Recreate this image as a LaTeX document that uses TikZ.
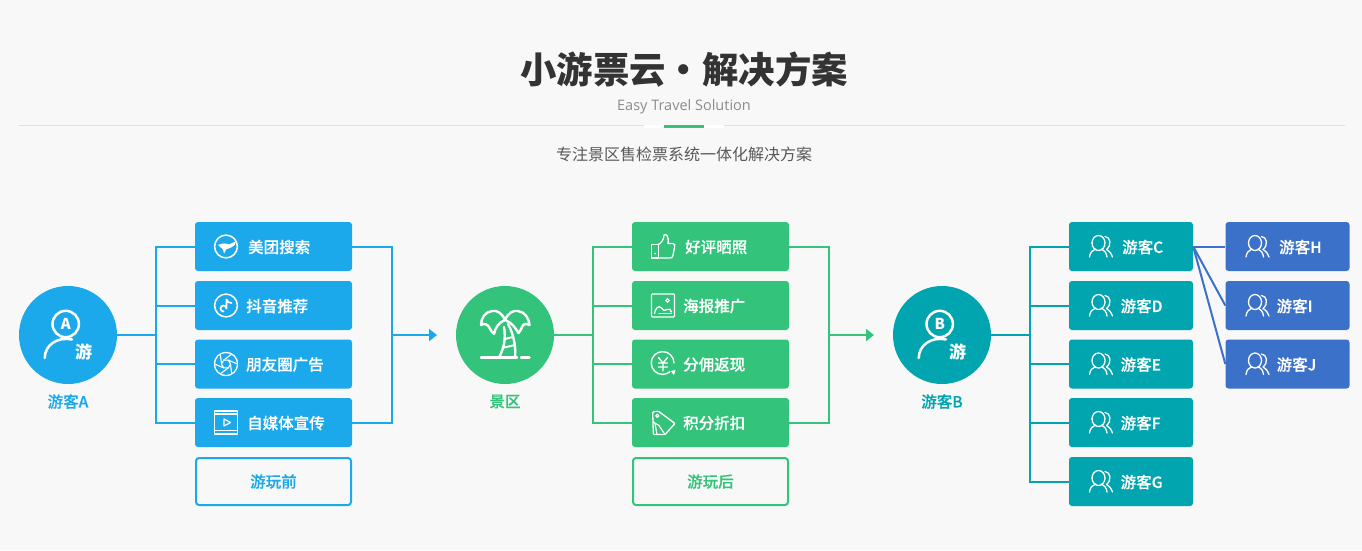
\documentclass[tikz,border=0pt]{standalone}
\usepackage{fontspec}
\usepackage{xcolor}
\usetikzlibrary{arrows.meta}
\setmainfont{Noto Sans CJK SC}
\newfontfamily\cjkmed[FakeBold=0.3]{Noto Sans CJK SC Medium}
\newfontfamily\latinsub{Open Sans}

\definecolor{pagebg}{HTML}{F8F8F8}
\definecolor{tourblue}{HTML}{1CA9EB}
\definecolor{spotgreen}{HTML}{33C37A}
\definecolor{tourteal}{HTML}{00A5AF}
\definecolor{groupblue}{HTML}{3B71C8}

\tikzset{
  hubnode/.style={circle, minimum size=98pt, inner sep=0pt, text=white},
  boxnode/.style={rectangle, rounded corners=3pt, minimum height=49pt, inner sep=0pt},
  widebox/.style={boxnode, minimum width=157pt},
  narrowbox/.style={boxnode, minimum width=124pt},
  outlinebox/.style={rectangle, rounded corners=3pt, draw, line width=2pt, minimum width=155pt, minimum height=47pt, inner sep=0pt, font=\cjkmed\fontsize{15.5}{16}\selectfont},
  boxtext/.style={anchor=west, inner sep=0pt, text=white, font=\cjkmed\fontsize{15.5}{16}\selectfont},
  hubtext/.style={inner sep=0pt, font=\cjkmed\fontsize{15.5}{16}\selectfont},
  linkline/.style={line width=2pt},
  icon/.style={draw=white, line width=1.5pt, line cap=round, line join=round},
  % People
  visitor/.pic={
    \draw[white, line width=2.5pt] (-2.3,-11) circle (13.2);
    \draw[white, line width=2.5pt, line cap=round] (-23.3,23) .. controls (-23,10) and (-11,1.5) .. (4,4.5);
    \node[inner sep=0pt, text=white, font=\bfseries\fontsize{15}{16}\selectfont] (-mark) at (-2.3,-11) {\tikzpictext};
    \node[inner sep=0pt, text=white, font=\bfseries\fontsize{17}{18}\selectfont] (-word) at (15.5,17) {游};
  },
  crowd/.pic={
    \draw[icon, line width=1.3pt] (-2,-3.5) ellipse (6.5 and 7.5);
    \draw[icon, line width=1.3pt] (-11,10.5) .. controls (-10.5,6) and (-8,3.5) .. (-5,2.5);
    \draw[icon, line width=1.3pt] (1,2.5) .. controls (3.5,3.5) and (6,6) .. (6.5,10.5);
    \draw[icon, line width=1.3pt] (4.5,-10) .. controls (10,-9.5) and (11.5,-1.5) .. (6,3);
    \draw[icon, line width=1.3pt] (6,3) .. controls (9.5,5) and (11.5,8) .. (12,10.5);
  },
  % Promotion icons before the visit
  birdicon/.pic={
    \draw[icon] (0,0) circle (11.4);
    \fill[white] (-8,-1.5) .. controls (-4,-3.5) and (0,-3.5) .. (3,-2) .. controls (5,-3) and (8,-4.5) .. (10,-5) .. controls (10,-2) and (8,0) .. (5,1) .. controls (3,2) and (1,2.5) .. (0,3) -- (-2,7) -- (-3,3) .. controls (-5,1.5) and (-6,0) .. cycle;
  },
  noteicon/.pic={
    \draw[icon] (0,0) circle (11.4);
    \draw[icon, line width=1.7pt] (0.5,-6) -- (0.5,3) arc (0:-270:3) (0.5,-6) .. controls (1,-3.5) and (3.5,-2.5) .. (5.5,-2.5);
  },
  lensicon/.pic={
    \draw[icon, line width=1.3pt] (0,0) circle (11.6);
    \draw[icon, line width=1.1pt] (0:4.5) -- (60:11.4) (60:4.5) -- (120:11.4) (120:4.5) -- (180:11.4)
      (180:4.5) -- (240:11.4) (240:4.5) -- (300:11.4) (300:4.5) -- (0:11.4);
    \draw[icon, line width=1.1pt] (0:4.5) -- (60:4.5) -- (120:4.5) -- (180:4.5) -- (240:4.5) -- (300:4.5) -- cycle;
  },
  filmicon/.pic={
    \draw[icon, line width=1.2pt] (-11.5,-11.5) rectangle (11.5,11.5);
    \draw[icon, line width=1.2pt] (-11.5,-8.5) -- (11.5,-8.5) (-11.5,8) -- (11.5,8);
    \draw[icon, line width=1.2pt] (-2,-3.5) -- (4.5,0) -- (-2,3.5) -- cycle;
  },
  % Promotion icons after the visit
  thumbicon/.pic={
    \draw[icon, line width=1.3pt] (-11.5,-2) rectangle (-4.5,11.5);
    \fill[white] (-8,7) circle (1);
    \draw[icon, line width=1.3pt] (-4.5,-2) .. controls (-1,-4) and (1,-8) .. (1,-11.5) .. controls (3,-13) and (6,-11) .. (5,-3)
      -- (10,-3) .. controls (12,-3) and (12,-1) .. (11.5,1) -- (10,9) .. controls (9.5,11) and (9,11.5) .. (7,11.5) -- (-4.5,11.5);
  },
  photoicon/.pic={
    \draw[icon, line width=1.3pt, rounded corners=1pt] (-11.5,-11.5) rectangle (11.5,11.5);
    \draw[icon, line width=1.3pt] (4.5,-5) circle (1.8);
    \draw[icon, line width=1.3pt] (-8.5,8) .. controls (-8,3) and (-4,-1) .. (-1.5,2.5) .. controls (0,5) and (2,6) .. (4,4) .. controls (6,2.5) and (8,4) .. (8.5,6.5);
    \draw[icon, line width=1.3pt] (-4,8) -- (8.5,8);
  },
  yenicon/.pic={
    \draw[icon, line width=1.4pt] (11,-1) arc (0:-310:11.4);
    \draw[icon, line width=1.4pt] (-4.5,-6.5) -- (0,-1) -- (4.5,-6.5) (0,-1) -- (0,7) (-4.5,-1) -- (4.5,-1) (-4.5,3) -- (4.5,3);
    \fill[white] (7.5,7) -- (12.5,6) -- (11,11) -- cycle;
  },
  tagicon/.pic={
    \draw[icon, line width=1.3pt, rounded corners=1pt] (-10.3,-10.7) -- (-4.6,-11.3) -- (12,1) -- (2,12) -- (-9.7,12) -- cycle;
    \draw[icon, line width=1.2pt] (-5.7,-6.7) circle (1.6);
    \draw[icon, line width=1.2pt] (-9.7,-0.5) -- (-4,3) -- (2,12) (-8,1) -- (-6,12);
  },
  palmicon/.pic={
    % Ground
    \draw[white, line width=2.4pt, line cap=round] (-24,22.5) -- (12,22.5) (16,22.5) -- (24.5,22.5);
    % Trunk
    \draw[white, line width=2.4pt, line cap=round, line join=round] (-6,22.5) .. controls (-1,13) and (1,4) .. (-1,-8)
      (10,22.5) .. controls (11,12) and (9,0) .. (3,-11);
    \draw[white, line width=2pt] (-3,13) -- (10,10) (-0.5,4) -- (8,2);
    % Leaves
    \draw[white, line width=2.4pt, line cap=round, line join=round] (0,-15) .. controls (-3,-22) and (-8,-25) .. (-13,-24)
      .. controls (-20,-23) and (-24,-17) .. (-24,-10) .. controls (-21,-12) and (-18,-11) .. (-16,-8)
      .. controls (-15,-5) and (-13,-3) .. (-11,-1) .. controls (-10,-7) and (-6,-13) .. (0,-15)
      .. controls (3,-22) and (8,-25) .. (13,-24) .. controls (20,-23) and (24,-17) .. (24.5,-10)
      .. controls (21,-12) and (18,-11) .. (17,-8) .. controls (16,-5) and (15,-4) .. (13.5,-2)
      .. controls (10,-8) and (6,-13) .. (0,-15);
  }
}

\begin{document}
\begin{tikzpicture}[x=1pt, y=-1pt]
  % Background
  \fill[pagebg] (0,0) rectangle (1362,550);

  % Heading
  \node[inner sep=0pt, text=black!80, font=\bfseries\fontsize{36.4}{40}\selectfont] (title) at (684,69.5) {小游票云・解决方案};
  \node[inner sep=0pt, text=black!45, font=\latinsub\fontsize{14.5}{16}\selectfont] (subtitle) at (684,106.5) {Easy Travel Solution};
  \node[inner sep=0pt, text=black!65, font=\fontsize{16}{18}\selectfont] (slogan) at (684,154) {专注景区售检票系统一体化解决方案};
  \fill[black!13] (19,125) rectangle (1345,126);
  \fill[white] (644,125) rectangle (724,128);
  \fill[spotgreen] (664,125) rectangle (704,128);

  % Visitor A
  \node[hubnode, fill=tourblue] (tourA) at (68,335) {};
  \pic[pic text=A] at (68,335) {visitor};
  \node[hubtext, text=tourblue] (tourAname) at (68,401.5) {游客A};
  \node[widebox, fill=tourblue] (meituan) at (273.5,246.5) {};
  \node[widebox, fill=tourblue] (douyin) at (273.5,305.5) {};
  \node[widebox, fill=tourblue] (moments) at (273.5,364) {};
  \node[widebox, fill=tourblue] (media) at (273.5,422.5) {};
  \node[outlinebox, draw=tourblue, text=tourblue] (before) at (273.5,481.5) {游玩前};
  \pic at (226,246.5) {birdicon};
  \pic at (226,305.5) {noteicon};
  \pic at (226,364) {lensicon};
  \pic at (226,422.5) {filmicon};
  \node[boxtext] (meituantext) at (248,247) {美团搜索};
  \node[boxtext] (douyintext) at (246,306) {抖音推荐};
  \node[boxtext] (momentstext) at (246,364.5) {朋友圈广告};
  \node[boxtext] (mediatext) at (247,423) {自媒体宣传};

  % Scenic spot
  \node[hubnode, fill=spotgreen] (spot) at (505,335) {};
  \pic at (505,335) {palmicon};
  \node[hubtext, text=spotgreen] (spotname) at (505,401.5) {景区};
  \node[widebox, fill=spotgreen] (review) at (710.5,246.5) {};
  \node[widebox, fill=spotgreen] (poster) at (710.5,305.5) {};
  \node[widebox, fill=spotgreen] (rebate) at (710.5,364) {};
  \node[widebox, fill=spotgreen] (points) at (710.5,422.5) {};
  \node[outlinebox, draw=spotgreen, text=spotgreen] (after) at (710.5,481.5) {游玩后};
  \pic at (663,246.5) {thumbicon};
  \pic at (663,305.5) {photoicon};
  \pic at (663,364) {yenicon};
  \pic at (663,422.5) {tagicon};
  \node[boxtext] (reviewtext) at (685,247) {好评晒照};
  \node[boxtext] (postertext) at (683,306) {海报推广};
  \node[boxtext] (rebatetext) at (683,364.5) {分佣返现};
  \node[boxtext] (pointstext) at (683,423) {积分折扣};

  % Visitor B and the visitors they bring
  \node[hubnode, fill=tourteal] (tourB) at (942,335) {};
  \pic[pic text=B] at (942,335) {visitor};
  \node[hubtext, text=tourteal] (tourBname) at (942,401.5) {游客B};
  \node[narrowbox, fill=tourteal] (guestC) at (1131,246.5) {};
  \node[narrowbox, fill=tourteal] (guestD) at (1131,305.5) {};
  \node[narrowbox, fill=tourteal] (guestE) at (1131,364) {};
  \node[narrowbox, fill=tourteal] (guestF) at (1131,422.5) {};
  \node[narrowbox, fill=tourteal] (guestG) at (1131,481.5) {};
  \node[narrowbox, fill=groupblue] (guestH) at (1287.5,246.5) {};
  \node[narrowbox, fill=groupblue] (guestI) at (1287.5,305.5) {};
  \node[narrowbox, fill=groupblue] (guestJ) at (1287.5,364) {};
  \pic at (1100.5,246.5) {crowd};
  \pic at (1100.5,305.5) {crowd};
  \pic at (1100.5,364) {crowd};
  \pic at (1100.5,422.5) {crowd};
  \pic at (1100.5,481.5) {crowd};
  \pic at (1257,246.5) {crowd};
  \pic at (1257,305.5) {crowd};
  \pic at (1257,364) {crowd};
  \node[boxtext] (guestCtext) at (1122,247) {游客C};
  \node[boxtext] (guestDtext) at (1120.5,306) {游客D};
  \node[boxtext] (guestEtext) at (1120.5,364.5) {游客E};
  \node[boxtext] (guestFtext) at (1120.5,423) {游客F};
  \node[boxtext] (guestGtext) at (1120.5,482) {游客G};
  \node[boxtext] (guestHtext) at (1279,247) {游客H};
  \node[boxtext] (guestItext) at (1276.5,306) {游客I};
  \node[boxtext] (guestJtext) at (1276.5,364.5) {游客J};

  % Branch points and arrow ends
  \coordinate (busA) at (156,335);
  \coordinate (joinA) at (392,335);
  \coordinate (endA) at (437,335);
  \coordinate (busS) at (593,335);
  \coordinate (joinS) at (829,335);
  \coordinate (endS) at (874,335);
  \coordinate (busB) at (1030,335);

  % Connect visitor A
  \draw[linkline, tourblue] (tourA.east) -- (busA);
  \draw[linkline, tourblue] (meituan.west) -| (busA);
  \draw[linkline, tourblue] (douyin.west) -| (busA);
  \draw[linkline, tourblue] (moments.west) -| (busA);
  \draw[linkline, tourblue] (media.west) -| (busA);
  \draw[linkline, tourblue] (meituan.east) -| (joinA);
  \draw[linkline, tourblue] (media.east) -| (joinA);
  \draw[linkline, tourblue, -{Triangle[length=8pt,width=12pt]}] (joinA) -- (endA);

  % Connect the scenic spot
  \draw[linkline, spotgreen] (spot.east) -- (busS);
  \draw[linkline, spotgreen] (review.west) -| (busS);
  \draw[linkline, spotgreen] (poster.west) -| (busS);
  \draw[linkline, spotgreen] (rebate.west) -| (busS);
  \draw[linkline, spotgreen] (points.west) -| (busS);
  \draw[linkline, spotgreen] (review.east) -| (joinS);
  \draw[linkline, spotgreen] (points.east) -| (joinS);
  \draw[linkline, spotgreen, -{Triangle[length=8pt,width=12pt]}] (joinS) -- (endS);

  % Connect visitor B
  \draw[linkline, tourteal] (tourB.east) -- (busB);
  \draw[linkline, tourteal] (guestC.west) -| (busB);
  \draw[linkline, tourteal] (guestD.west) -| (busB);
  \draw[linkline, tourteal] (guestE.west) -| (busB);
  \draw[linkline, tourteal] (guestF.west) -| (busB);
  \draw[linkline, tourteal] (guestG.west) -| (busB);
  \draw[linkline, groupblue] (guestC.east) -- (guestH.west);
  \draw[linkline, groupblue] (guestC.east) -- (guestI.west);
  \draw[linkline, groupblue] (guestC.east) -- (guestJ.west);
\end{tikzpicture}
\end{document}
